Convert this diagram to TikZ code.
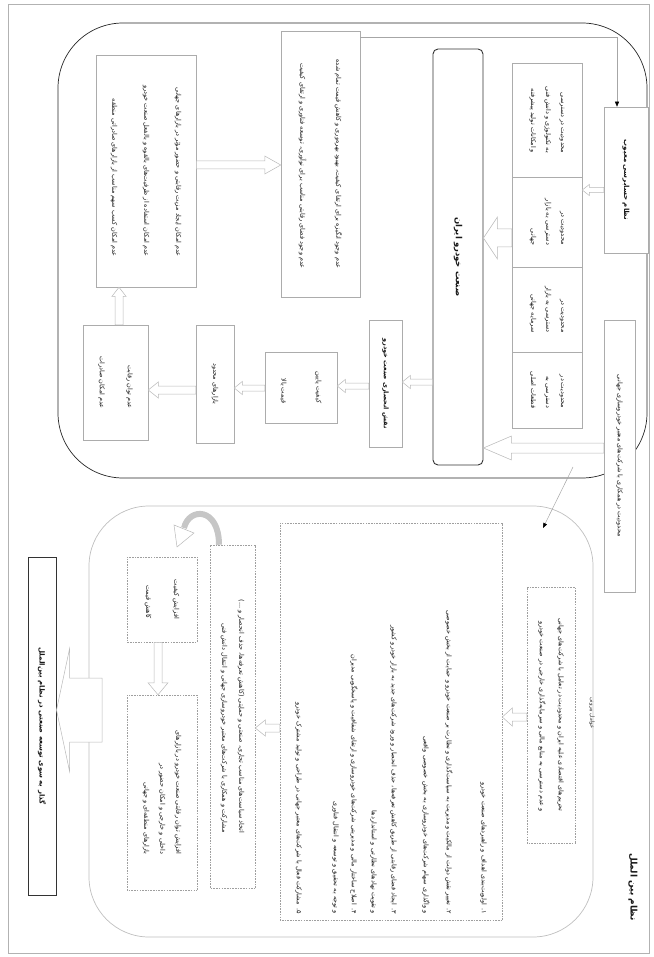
\documentclass[tikz,border=0pt]{standalone}
\usepackage{fontspec}
\usetikzlibrary{calc,arrows.meta}
\newfontfamily\arabicfont[Script=Arabic]{DejaVu Sans}
\TeXXeTstate=1
\newcommand\fa[1]{\beginR #1\endR}
\newcommand\fsz[2]{\fontsize{#1}{#2}\selectfont}
% hollow arrow: #1 shaft half width, #2 head half width, #3 head length, #4 start, #5 end
\newcommand\harrow[5]{%
  \path ($(#5)!#3!(#4)$) coordinate (hb);
  \draw[hollow] ($(#4)!#1!90:(#5)$) -- ($(hb)!#1!-90:(#4)$) -- ($(hb)!#2!-90:(#4)$) -- (#5)
    -- ($(hb)!#2!90:(#4)$) -- ($(hb)!#1!90:(#4)$) -- ($(#4)!#1!-90:(#5)$) -- cycle;
}
\tikzset{
  rot/.style={rotate=-90},
  bx/.style={rot, draw=gray!65, line width=0.5pt, fill=white, inner sep=1pt, align=right,
    text=black!90, font=\arabicfont\fsz{6.5}{12}},
  dbx/.style={bx, dash pattern=on 1.6pt off 1.1pt, draw=gray!75},
  hollow/.style={draw=gray!55, line width=0.5pt, fill=white},
  thinarrow/.style={draw=gray!70, line width=0.5pt, -{Triangle[length=5pt,width=4pt,color=black]}},
}
\begin{document}
\begin{tikzpicture}[x=1pt,y=1pt]
\useasboundingbox (0,0) rectangle (653,-957);
% page frame and the two large regions
\draw[gray!60, line width=0.8pt] (8,-4) rectangle (649,-953);
\draw[black!85, line width=0.7pt, rounded corners=65pt] (58,-23) rectangle (647,-478);
\draw[gray!50, line width=0.7pt, rounded corners=60pt] (89,-506) rectangle (593,-937);

% ---------- upper region ----------
\node[bx, minimum width=146pt, minimum height=44pt, font=\arabicfont\bfseries\fsz{7}{12}] (H) at (626,-180)
  {\fa{نظام حسابرسی معیوب}};
\node[bx, minimum width=114pt, minimum height=70pt, font=\arabicfont\fsz{6.5}{15}] (S1) at (547,-120)
  {\fa{محدودیت در دسترسی}\\\fa{به تکنولوژی و دانش فنی}\\\fa{و امکانات تولید پیشرفته}};
\node[bx, minimum width=90pt, minimum height=70pt, font=\arabicfont\fsz{6.5}{15}] (S2) at (547,-222)
  {\fa{محدودیت در}\\\fa{دسترسی به بازار}\\\fa{جهانی}};
\node[bx, minimum width=85pt, minimum height=70pt, font=\arabicfont\fsz{6.5}{15}] (S3) at (547,-309.5)
  {\fa{محدودیت در}\\\fa{دسترسی به بازار}\\\fa{سرمایه جهانی}};
\node[bx, minimum width=76pt, minimum height=70pt, font=\arabicfont\fsz{6.5}{15}] (S4) at (547,-390)
  {\fa{محدودیت در}\\\fa{دسترسی به}\\\fa{قطعات اصلی}};
\node[bx, draw=black!80, line width=0.9pt, rounded corners=5pt, minimum width=416pt, minimum height=50pt,
  font=\arabicfont\bfseries\fsz{8.5}{12}] (L) at (458,-257) {\fa{صنعت خودرو ایران}};
\node[bx, minimum width=272pt, minimum height=31pt] (J) at (619.5,-456)
  {\fa{محدودیت در همکاری با شرکت‌های معتبر خودروسازی جهانی}};
\node[bx, minimum width=266pt, minimum height=79pt, font=\arabicfont\fsz{6.5}{36}] (B) at (320.5,-164)
  {\fa{عدم وجود انگیزه برای ارتقای کیفیت، بهبود بهره‌وری و کاهش قیمت تمام شده}\\
   \fa{عدم وجود فضای رقابتی مناسب برای نوآوری، توسعه فناوری و ارتقای کیفیت}};
\node[bx, minimum width=232pt, minimum height=100pt, font=\arabicfont\fsz{6.5}{32}] (A) at (146,-171)
  {\fa{عدم امکان ایجاد مزیت رقابتی و حضور مؤثر در بازارهای جهانی}\\
   \fa{عدم امکان استفاده از ظرفیت‌های بالقوه و بالفعل صنعت خودرو}\\
   \fa{عدم امکان کسب سهم مناسب از بازارهای صادراتی منطقه}};
\node[bx, minimum width=127pt, minimum height=33pt, font=\arabicfont\bfseries\fsz{6.5}{12}] (C) at (385.5,-383.5)
  {\fa{نقش انحصاری صنعت خودرو}};
\node[bx, minimum width=71pt, minimum height=72pt, font=\arabicfont\fsz{6.5}{35}] (D) at (301,-387.5)
  {\fa{کیفیت پایین}\\\fa{قیمت بالا}};
\node[bx, minimum width=118pt, minimum height=38pt] (E) at (215,-384)
  {\fa{بازارهای محدود}};
\node[bx, minimum width=115pt, minimum height=65pt, font=\arabicfont\fsz{6.5}{28}] (F) at (115.5,-382.5)
  {\fa{عدم توان رقابت}\\\fa{عدم امکان صادرات}};

% connectors of the upper region
\coordinate (a1s) at (H.south |- 0,-190);  \coordinate (a1e) at (S2.north |- 0,-190);
\harrow{2.5pt}{5.5pt}{7pt}{a1s}{a1e}
\coordinate (a2s) at (S2.south |- 0,-238); \coordinate (a2e) at (L.north |- 0,-238);
\harrow{9pt}{21pt}{14pt}{a2s}{a2e}
\coordinate (a3s) at (J.south |- 0,-448);  \coordinate (a3e) at (L.north |- 0,-448);
\harrow{5pt}{12pt}{28pt}{a3s}{a3e}
\coordinate (a4s) at (L.south |- 0,-382);  \coordinate (a4e) at (C.north |- 0,-382);
\harrow{3pt}{6.5pt}{8pt}{a4s}{a4e}
\coordinate (a5s) at (C.south |- 0,-386);  \coordinate (a5e) at (D.north |- 0,-386);
\harrow{3pt}{6.5pt}{8pt}{a5s}{a5e}
\coordinate (a6s) at (D.south |- 0,-388);  \coordinate (a6e) at (E.north |- 0,-388);
\harrow{3pt}{6.5pt}{8pt}{a6s}{a6e}
\coordinate (a7s) at (E.south |- 0,-390);  \coordinate (a7e) at (F.north |- 0,-390);
\harrow{4pt}{8pt}{10pt}{a7s}{a7e}
\coordinate (a8s) at (F.west -| 119,0);    \coordinate (a8e) at (A.east -| 119,0);
\harrow{4pt}{7pt}{9pt}{a8s}{a8e}
\coordinate (a9s) at (A.north |- 0,-165);  \coordinate (a9e) at (B.south |- 0,-165);
\harrow{4pt}{9pt}{16pt}{a9s}{a9e}
\coordinate (bt) at (B.north |- 0,-37);    \coordinate (ht) at (H.west -| 617,0);
\draw[thinarrow] (bt) -| (ht);
\coordinate (d1) at (573,-467); \coordinate (d2) at (543,-528);
\draw[thinarrow] (d1) -- (d2);

% ---------- lower region ----------
\node[rot, font=\arabicfont\bfseries\fsz{9}{12}, text=black!90] (title) at (633,-887) {\fa{نظام بین الملل}};
\node[rot, font=\arabicfont\fsz{5.5}{10}, text=black!80] (K) at (592,-713) {\fa{عوامل بیرونی}};
\node[dbx, minimum width=256pt, minimum height=48pt, font=\arabicfont\fsz{6.5}{19}] (T) at (551,-715)
  {\fa{تحریم‌های اقتصادی علیه ایران و محدودیت در تعامل با شرکت‌های جهانی}\\
   \fa{و عدم دسترسی به منابع مالی و سرمایه‌گذاری خارجی در صنعت خودرو}};
\node[dbx, minimum width=397pt, minimum height=222pt, text width=385pt, font=\arabicfont\fsz{6.5}{20}] (BD) at (391,-721.5)
  {\fa{۱. اولویت‌بندی اهداف و راهبردهای صنعت خودرو}\\[15pt]
   \fa{۲. تغییر نقش دولت از مالکیت و مدیریت به سیاست‌گذاری و نظارت بر صنعت خودرو و حمایت از بخش خصوصی}\\[3pt]
   \fa{و واگذاری سهام شرکت‌های خودروسازی به بخش خصوصی واقعی}\\[12pt]
   \fa{۳. ایجاد فضای رقابتی از طریق کاهش تعرفه‌ها، حذف انحصار و ورود شرکت‌های جدید به بازار خودرو کشور}\\
   \fa{و تقویت نهادهای نظارتی و استانداردها}\\
   \fa{۴. اصلاح ساختار مالی و مدیریتی شرکت‌های خودروسازی و ارتقای شفافیت و پاسخگویی مدیران}\\[-2pt]
   \fa{و توجه به تحقیق و توسعه و انتقال فناوری}\\[17pt]
   \fa{۵. مشارکت فعال با شرکت‌های معتبر جهانی در طراحی و تولید مشترک خودرو}};
\node[dbx, minimum width=343pt, minimum height=45pt, font=\arabicfont\fsz{6.5}{17}] (LD) at (232.5,-716.5)
  {\fa{اتخاذ سیاست‌های مناسب تجاری، صنعتی و حمایتی (کاهش تعرفه‌ها، حذف انحصار و ...)}\\
   \fa{مشارکت و همکاری با شرکت‌های معتبر خودروسازی جهانی و انتقال دانش فنی}};
\node[dbx, minimum width=85pt, minimum height=70pt, font=\arabicfont\fsz{6.5}{28}] (SD1) at (162,-599.5)
  {\fa{افزایش کیفیت}\\\fa{کاهش قیمت}};
\node[dbx, minimum width=195pt, minimum height=70pt, font=\arabicfont\fsz{6.5}{16}] (SD2) at (162,-792.5)
  {\fa{افزایش توان رقابتی صنعت خودرو در بازارهای}\\\fa{داخلی و خارجی و امکان حضور در}\\\fa{بازارهای منطقه‌ای و جهانی}};
\node[bx, draw=black!80, line width=1pt, minimum width=338pt, minimum height=28pt,
  font=\arabicfont\bfseries\fsz{7}{12}] (FB) at (42,-726)
  {\fa{گذار به سوی توسعه صنعتی در نظام بین‌الملل}};

% connectors of the lower region
\coordinate (b1s) at (T.south |- 0,-717);   \coordinate (b1e) at (BD.north |- 0,-717);
\harrow{4pt}{9pt}{10pt}{b1s}{b1e}
\coordinate (b2s) at (BD.south |- 0,-728);  \coordinate (b2e) at (LD.north |- 0,-728);
\harrow{4pt}{8pt}{10pt}{b2s}{b2e}
\coordinate (b3s) at (SD1.east -| 158,0);   \coordinate (b3e) at (SD2.west -| 158,0);
\harrow{4pt}{10pt}{12pt}{b3s}{b3e}
\coordinate (b4s) at (102,-710);            \coordinate (b4e) at (FB.north |- 0,-710);
\harrow{32pt}{61pt}{13pt}{b4s}{b4e}
% curved arrow from LD back to SD1
\coordinate (c1) at (LD.west -| 219,0);
\coordinate (c2) at (184,-528);
\draw[gray!45, line width=6pt] (c1) .. controls (219,-507) and (189,-507) .. (c2);
\draw[hollow] (174,-525) -- (177,-547) -- (194,-533) -- cycle;
\end{tikzpicture}
\end{document}
